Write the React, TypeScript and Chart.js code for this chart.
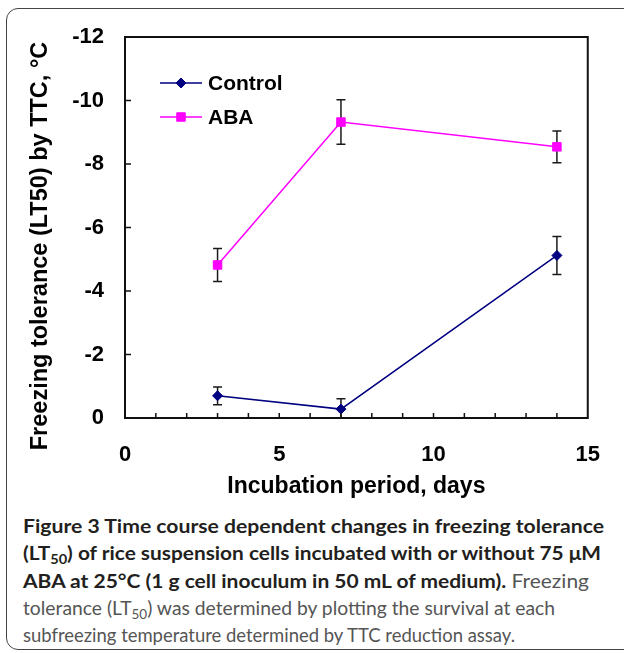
import React, { useEffect, useLayoutEffect, useRef } from "react";
import { Chart, registerables } from "chart.js";
import { drawPoint } from "chart.js/helpers";

Chart.register(...registerables);

// ---- data ----
const days = [3, 7, 14];
const controlValues = [-0.7, -0.28, -5.12];
const controlErrors = [0.28, 0.33, 0.6];
const abaValues = [-4.82, -9.32, -8.54];
const abaErrors = [0.52, 0.7, 0.5];
const seriesLabels = ["Control", "ABA"];
const xTickLabels = [0, 5, 10, 15];
const yTickLabels = [0, -2, -4, -6, -8, -10, -12];
const xTitle = "Incubation period, days";
const yTitle = "Freezing tolerance (LT50) by TTC, °C";

const FONT = '"Liberation Sans", Arial, Helvetica, sans-serif';
const CAPTION_FONT = 'Lato, "Open Sans", sans-serif';

const decorPlugin = {
  id: "decor",
  beforeDatasetsDraw(chart: any) {
    const { ctx, scales, chartArea: a } = chart;
    const x = scales.x;
    const y = scales.y;
    ctx.save();
    ctx.beginPath();
    ctx.rect(a.left, a.top, a.right - a.left, a.bottom - a.top);
    ctx.clip();
    ctx.strokeStyle = "#1a1a1a";
    ctx.lineWidth = 1.5;
    chart.data.datasets.forEach((ds: any) => {
      const errs: number[] = ds.errorBars || [];
      ds.data.forEach((p: any, j: number) => {
        const e = errs[j];
        if (e == null) return;
        const px = x.getPixelForValue(p.x);
        const y1 = y.getPixelForValue(p.y - e);
        const y2 = y.getPixelForValue(p.y + e);
        ctx.beginPath();
        ctx.moveTo(px, y1);
        ctx.lineTo(px, y2);
        ctx.moveTo(px - 4.5, y1);
        ctx.lineTo(px + 4.5, y1);
        ctx.moveTo(px - 4.5, y2);
        ctx.lineTo(px + 4.5, y2);
        ctx.stroke();
      });
    });
    ctx.restore();
  },
  afterDraw(chart: any) {
    const { ctx, chartArea: a, scales } = chart;
    const x = scales.x;
    const y = scales.y;
    ctx.save();
    // frame
    ctx.strokeStyle = "#111";
    ctx.lineWidth = 2;
    ctx.strokeRect(a.left, a.top, a.right - a.left, a.bottom - a.top);
    // inner ticks
    ctx.lineWidth = 1.5;
    ctx.beginPath();
    for (let v = Math.ceil(x.min) + 1; v < x.max; v++) {
      const px = x.getPixelForValue(v);
      ctx.moveTo(px, a.bottom);
      ctx.lineTo(px, a.bottom - 5);
    }
    yTickLabels.forEach((v) => {
      if (v === y.min || v === y.max) return;
      const py = y.getPixelForValue(v);
      ctx.moveTo(a.left, py);
      ctx.lineTo(a.left + 6, py);
    });
    ctx.stroke();

    // legend inside plot
    chart.data.datasets.forEach((ds: any, i: number) => {
      const ly = a.top + 46 + i * 34;
      const x0 = a.left + 35;
      const x1 = a.left + 77;
      ctx.strokeStyle = ds.borderColor;
      ctx.lineWidth = 1.5;
      ctx.beginPath();
      ctx.moveTo(x0, ly);
      ctx.lineTo(x1, ly);
      ctx.stroke();
      ctx.fillStyle = ds.pointBackgroundColor;
      ctx.strokeStyle = ds.pointBorderColor;
      ctx.lineWidth = 1;
      drawPoint(
        ctx,
        { pointStyle: ds.pointStyle, rotation: 0, radius: ds.pointRadius, borderWidth: 1 } as any,
        (x0 + x1) / 2,
        ly
      );
      ctx.fillStyle = "#000";
      ctx.font = `bold 21px ${FONT}`;
      ctx.textAlign = "left";
      ctx.textBaseline = "middle";
      ctx.fillText(ds.label, a.left + 83, ly + 1);
    });

    // y-axis title
    ctx.translate(41, 246);
    ctx.rotate(-Math.PI / 2);
    ctx.fillStyle = "#000";
    ctx.font = `bold 23.5px ${FONT}`;
    ctx.textAlign = "center";
    ctx.textBaseline = "middle";
    ctx.fillText(yTitle, 0, 0);
    ctx.restore();
  },
};

const lineTargets = [581, 578, 566, 532, 492];

export default function App() {
  const canvasRef = useRef<HTMLCanvasElement | null>(null);
  const lineRefs = useRef<(HTMLDivElement | null)[]>([]);

  useEffect(() => {
    if (!canvasRef.current) return;
    const chart = new Chart(canvasRef.current, {
      type: "line",
      data: {
        datasets: [
          {
            label: seriesLabels[0],
            data: days.map((d, i) => ({ x: d, y: controlValues[i] })),
            errorBars: controlErrors,
            borderColor: "#000080",
            backgroundColor: "#000080",
            pointBackgroundColor: "#000080",
            pointBorderColor: "#000080",
            pointStyle: "rectRot",
            pointRadius: 5,
            pointBorderWidth: 1,
            borderWidth: 1.5,
            tension: 0,
          } as any,
          {
            label: seriesLabels[1],
            data: days.map((d, i) => ({ x: d, y: abaValues[i] })),
            errorBars: abaErrors,
            borderColor: "#FF00FF",
            backgroundColor: "#FF00FF",
            pointBackgroundColor: "#FF00FF",
            pointBorderColor: "#FF00FF",
            pointStyle: "rect",
            pointRadius: 6,
            pointBorderWidth: 1,
            borderWidth: 1.5,
            tension: 0,
          } as any,
        ],
      },
      options: {
        animation: false,
        responsive: true,
        maintainAspectRatio: false,
        layout: { padding: { left: 0, right: 33, top: 37, bottom: 0 } },
        plugins: {
          legend: { display: false },
          tooltip: { enabled: false },
        },
        scales: {
          x: {
            type: "linear",
            min: 0,
            max: 15,
            afterBuildTicks: (s: any) => {
              s.ticks = xTickLabels.map((v) => ({ value: v }));
            },
            afterFit: (s: any) => {
              s.height = 92;
            },
            grid: { display: false, drawTicks: false },
            border: { display: false },
            ticks: {
              padding: 24,
              color: "#000",
              maxRotation: 0,
              font: { family: FONT, size: 22, weight: "bold" },
            },
            title: {
              display: true,
              text: xTitle,
              color: "#000",
              font: { family: FONT, size: 23, weight: "bold" },
              padding: { top: 0, bottom: 10 },
            },
          },
          y: {
            type: "linear",
            min: -12,
            max: 0,
            reverse: true,
            afterBuildTicks: (s: any) => {
              s.ticks = yTickLabels.map((v) => ({ value: v }));
            },
            afterFit: (s: any) => {
              s.width = 125;
            },
            grid: { display: false, drawTicks: false },
            border: { display: false },
            ticks: {
              padding: 21,
              color: "#000",
              font: { family: FONT, size: 22, weight: "bold" },
            },
            title: { display: false },
          },
        },
      } as any,
      plugins: [decorPlugin],
    });
    return () => chart.destroy();
  }, []);

  useLayoutEffect(() => {
    const fit = () => {
      lineRefs.current.forEach((el, i) => {
        if (!el) return;
        el.style.transform = "none";
        const w = el.getBoundingClientRect().width;
        if (w > 0) el.style.transform = `scaleX(${lineTargets[i] / w})`;
      });
    };
    fit();
    if ((document as any).fonts && (document as any).fonts.ready) {
      (document as any).fonts.ready.then(fit);
    }
  }, []);

  const sub = (t: string) => (
    <span style={{ fontSize: "0.7em", position: "relative", top: "0.3em" }}>{t}</span>
  );
  const bold: React.CSSProperties = { fontWeight: 700, color: "#231f20" };
  const normal: React.CSSProperties = { fontWeight: 400, color: "#555" };
  const lineStyle = (i: number): React.CSSProperties => ({
    position: "absolute",
    left: 23,
    top: 512 + i * 27.3,
    whiteSpace: "nowrap",
    display: "inline-block",
    lineHeight: "27px",
    fontSize: 19.5,
    fontFamily: CAPTION_FONT,
    transformOrigin: "0 50%",
  });
  const setRef = (i: number) => (el: HTMLDivElement | null) => {
    lineRefs.current[i] = el;
  };

  return (
    <div
      style={{
        position: "fixed",
        left: 0,
        top: 0,
        width: 624,
        height: 653,
        overflow: "hidden",
        background: "#fff",
      }}
    >
      <div
        style={{
          position: "absolute",
          left: 6,
          top: 8,
          width: 660,
          height: 642,
          border: "1.5px solid #444",
          borderRadius: 12,
          boxSizing: "border-box",
        }}
      />
      <div style={{ position: "absolute", left: 0, top: 0, width: 624, height: 510 }}>
        <canvas ref={canvasRef} />
      </div>
      <div ref={setRef(0)} style={{ ...lineStyle(0), ...bold }}>
        Figure 3 Time course dependent changes in freezing tolerance
      </div>
      <div ref={setRef(1)} style={{ ...lineStyle(1), ...bold }}>
        (LT{sub("50")}) of rice suspension cells incubated with or without 75 μM
      </div>
      <div ref={setRef(2)} style={{ ...lineStyle(2) }}>
        <span style={bold}>ABA at 25°C (1 g cell inoculum in 50 mL of medium).</span>
        <span style={normal}> Freezing</span>
      </div>
      <div ref={setRef(3)} style={{ ...lineStyle(3), ...normal }}>
        tolerance (LT{sub("50")}) was determined by plotting the survival at each
      </div>
      <div ref={setRef(4)} style={{ ...lineStyle(4), ...normal }}>
        subfreezing temperature determined by TTC reduction assay.
      </div>
    </div>
  );
}
